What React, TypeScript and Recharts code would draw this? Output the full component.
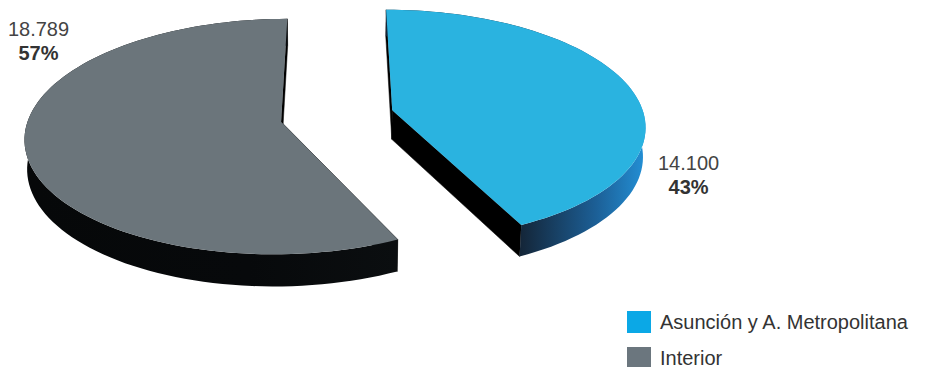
import React from 'react';
import { PieChart, Pie, Legend } from 'recharts';

const regions = ['Asunción y A. Metropolitana', 'Interior'];
const totals = [14100, 18789];
const totalLabels = ['14.100', '18.789'];
const shares = ['43%', '57%'];

const topColors = ['#2ab3e0', '#6b757b'];
const rimStops = [
  ['#142639', '#1c5f96', '#2390d6'],
  ['#060809', '#07090b', '#0b0e10'],
];
const legendColors = ['#0ba8e6', '#6b767e'];

const data = regions.map((name, i) => ({ name, value: totals[i] }));

const FONT = '"Liberation Sans", Arial, sans-serif';
const RAD = Math.PI / 180;
const TILT = 27 * RAD;
const CAM = 1800;
const DEPTH = 33;
const EXPLODE = 57;

// simple perspective projection of a point on the pie disc (Z = towards the back)
const project = (cx: number, cy: number, X: number, Y: number, Z: number) => {
  const yc = -(Z * Math.sin(TILT) + Y * Math.cos(TILT));
  const zc = Z * Math.cos(TILT) - Y * Math.sin(TILT);
  const s = CAM / (CAM + zc);
  return [cx + X * s, cy + yc * s];
};

const poly = (pts: number[][]) =>
  'M' + pts.map((p) => `${p[0].toFixed(2)},${p[1].toFixed(2)}`).join('L') + 'Z';

const Slice3D = (props: any) => {
  const { cx, cy, outerRadius, startAngle, endAngle, midAngle, index } = props;
  const ex = EXPLODE * Math.cos(midAngle * RAD);
  const ez = EXPLODE * Math.sin(midAngle * RAD);
  const pt = (ang: number, r: number, y: number) =>
    project(cx, cy, ex + r * Math.cos(ang * RAD), y, ez + r * Math.sin(ang * RAD));

  const steps = Math.ceil(Math.abs(endAngle - startAngle) / 2);
  const angles: number[] = [];
  for (let k = 0; k <= steps; k++) angles.push(startAngle + ((endAngle - startAngle) * k) / steps);

  const apexTop = pt(0, 0, 0);
  const apexBot = pt(0, 0, -DEPTH);
  const arcTop = angles.map((a) => pt(a, outerRadius, 0));
  const arcBot = angles.map((a) => pt(a, outerRadius, -DEPTH));

  const rim = poly([...arcTop, ...arcBot.slice().reverse()]);
  const faceStart = poly([apexTop, arcTop[0], arcBot[0], apexBot]);
  const faceEnd = poly([apexTop, arcTop[steps], arcBot[steps], apexBot]);

  const xs = arcTop.map((p) => p[0]);
  const ys = arcTop.map((p) => p[1]);
  const gradId = `rim-${index}`;
  const gx1 = index === 0 ? arcTop[steps][0] : Math.min(...xs);
  const gx2 = Math.max(...xs);

  const labelX = index === 0 ? Math.max(...xs) + 43 : Math.min(...xs) + 14;
  const labelY = index === 0 ? cy + 54 : Math.min(...ys) + 17;

  return (
    <g>
      <defs>
        <linearGradient id={gradId} gradientUnits="userSpaceOnUse" x1={gx1} y1={0} x2={gx2} y2={0}>
          <stop offset="0" stopColor={rimStops[index][0]} />
          <stop offset="0.6" stopColor={rimStops[index][1]} />
          <stop offset="1" stopColor={rimStops[index][2]} />
        </linearGradient>
      </defs>
      <path d={faceStart} fill="#000" stroke="#000" strokeWidth={0.5} />
      <path d={faceEnd} fill="#000" stroke="#000" strokeWidth={0.5} />
      <path d={rim} fill={`url(#${gradId})`} />
      <path d={poly([apexTop, ...arcTop])} fill={topColors[index]} />
      <text x={labelX} y={labelY} textAnchor="middle" fontFamily={FONT} fontSize={20} fill="#444">
        {totalLabels[index]}
      </text>
      <text
        x={labelX}
        y={labelY + 24}
        textAnchor="middle"
        fontFamily={FONT}
        fontSize={20}
        fontWeight="bold"
        fill="#333"
      >
        {shares[index]}
      </text>
    </g>
  );
};

const LegendBox = (props: any) => {
  const { payload = [] } = props;
  return (
    <div style={{ fontFamily: FONT, fontSize: 20, color: '#333' }}>
      {payload.map((p: any, i: number) => (
        <div key={p.value} style={{ display: 'flex', alignItems: 'center', height: 36 }}>
          <span
            style={{
              display: 'inline-block',
              width: 24,
              height: 22,
              background: legendColors[i],
              marginRight: 9,
            }}
          />
          {p.value}
        </div>
      ))}
    </div>
  );
};

export default function App() {
  return (
    <div style={{ width: 926, height: 367, background: '#fff' }}>
      <style>{'body{margin:0}'}</style>
      <PieChart width={926} height={367} margin={{ top: 0, right: 0, bottom: 0, left: 0 }}>
        <Pie
          data={data}
          dataKey="value"
          nameKey="name"
          cx={337}
          cy={116}
          outerRadius={252}
          startAngle={90}
          endAngle={-270}
          fill="transparent"
          stroke="none"
          label={Slice3D}
          labelLine={false}
          isAnimationActive={false}
        />
        <Legend
          content={LegendBox}
          wrapperStyle={{ position: 'absolute', left: 627, top: 304, width: 300, bottom: 'auto' }}
        />
      </PieChart>
    </div>
  );
}
